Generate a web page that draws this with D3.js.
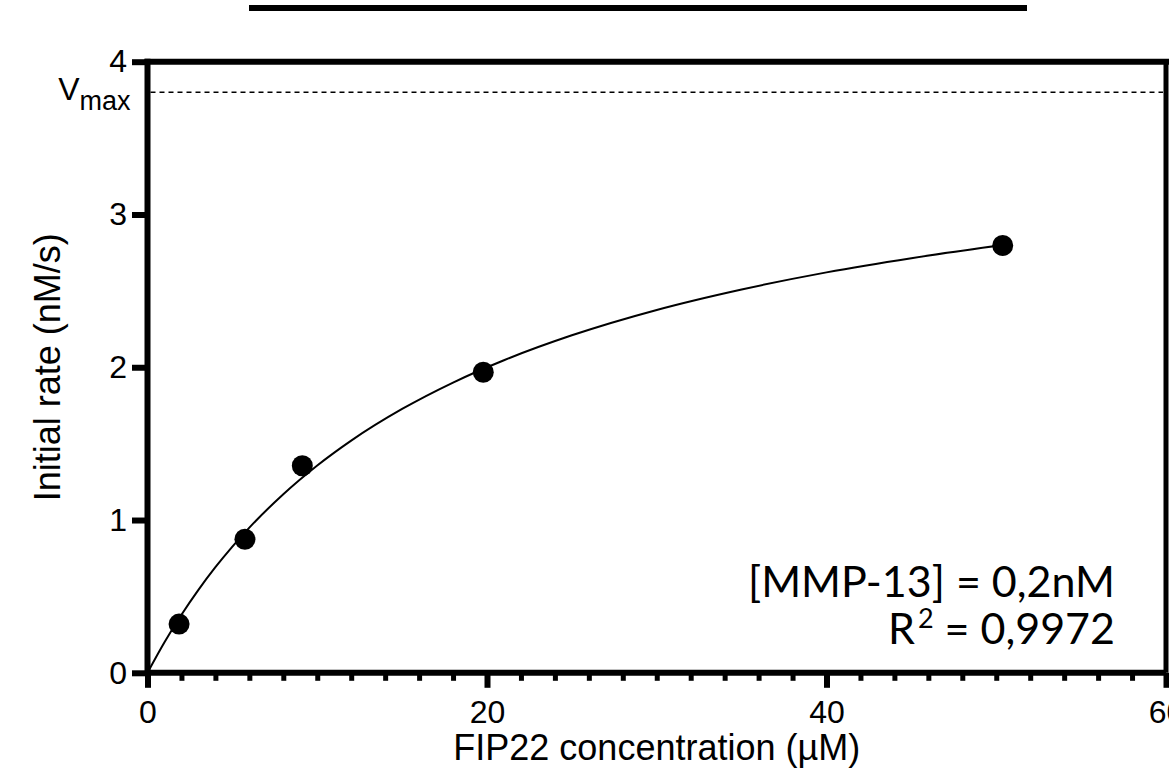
<!DOCTYPE html>
<html>
<head>
<meta charset="utf-8">
<script src="https://cdnjs.cloudflare.com/ajax/libs/d3/7.8.5/d3.min.js"></script>
<style>
  body { margin: 0; background: #fff; }
  svg { display: block; }
</style>
</head>
<body>
<div id="svgholder"></div>
<script>
// measured points (FIP22 uM vs initial rate nM/s)
var substrate = [1.86, 5.74, 9.12, 19.78, 50.38];
var rate = [0.319, 0.874, 1.355, 1.967, 2.797];

// fitted curve
var curveX = [0, 1, 2, 3, 4, 5, 6, 8, 10, 12, 15, 18, 21, 25, 30, 35, 40, 45, 50.4];
var curveY = [0, 0.20, 0.38, 0.543, 0.691, 0.826, 0.95, 1.169, 1.357, 1.52, 1.727, 1.90, 2.046, 2.209, 2.375, 2.509, 2.621, 2.714, 2.80];

var vmax = 3.80;

var xTicks = [0, 20, 40, 60];
var xMinorTicks = d3.range(2, 60, 2).filter(function(d){ return d % 20 != 0; });
var yTicks = [0, 1, 2, 3, 4];

var annotation = ["[MMP-13] = 0,2nM", "0,9972"];

var g = {
	width: 1169,
	height: 782,
	margin: {top: 61.7, right: 3, bottom: 109.2, left: 147.5},
	axisFont: "'Liberation Sans', Arial, sans-serif",
	noteFont: "Lato, 'Open Sans', sans-serif",
	plotW: function(){ return this.width - this.margin.left - this.margin.right; },
	plotH: function(){ return this.height - this.margin.top - this.margin.bottom; }
};

var svg = d3.select("#svgholder").append("svg")
	.attr("width", g.width)
	.attr("height", g.height);

// thick bar across the top
svg.append("line")
	.attr("x1", 249).attr("x2", 1027)
	.attr("y1", 8).attr("y2", 8)
	.attr("stroke", "#000")
	.attr("stroke-width", 6);

var plot = svg.append("g")
	.attr("transform", "translate(" + g.margin.left + "," + g.margin.top + ")");

var x = d3.scaleLinear().domain([0, 60]).range([0, g.plotW()]);
var y = d3.scaleLinear().domain([0, 4]).range([g.plotH(), 0]);

// minor x ticks
plot.append("g")
	.attr("transform", "translate(0," + g.plotH() + ")")
	.call(d3.axisBottom(x).tickValues(xMinorTicks).tickSize(8).tickFormat(""))
	.call(function(s){
		s.select(".domain").remove();
		s.selectAll(".tick line").attr("stroke-width", 5);
	});

// major x ticks
plot.append("g")
	.attr("transform", "translate(0," + g.plotH() + ")")
	.call(d3.axisBottom(x).tickValues(xTicks).tickSize(15).tickPadding(12).tickFormat(d3.format("d")))
	.call(function(s){
		s.select(".domain").remove();
		s.selectAll(".tick line").attr("stroke-width", 6);
		s.selectAll("text").attr("font-family", g.axisFont).attr("font-size", 32).attr("fill", "#000");
	});

// y ticks
plot.append("g")
	.call(d3.axisLeft(y).tickValues(yTicks).tickSize(15.5).tickPadding(5).tickFormat(d3.format("d")))
	.call(function(s){
		s.select(".domain").remove();
		s.selectAll(".tick line").attr("stroke-width", 6);
		s.selectAll("text").attr("font-family", g.axisFont).attr("font-size", 32).attr("fill", "#000");
	});

// frame
var frame = [
	[x(0), y(0), x(60), y(0), 6],
	[x(0), y(0) + 3, x(0), y(4) - 3, 6],
	[x(0) - 3, y(4), x(60) + 3, y(4), 6],
	[x(60), y(4), x(60), y(0), 5]
];
plot.selectAll(".frame").data(frame).enter()
	.append("line")
	.attr("class", "frame")
	.attr("x1", function(d){ return d[0]; })
	.attr("y1", function(d){ return d[1]; })
	.attr("x2", function(d){ return d[2]; })
	.attr("y2", function(d){ return d[3]; })
	.attr("stroke", "#000")
	.attr("stroke-width", function(d){ return d[4]; });

// Vmax dashed line
plot.append("line")
	.attr("x1", x(0) + 3).attr("x2", x(60) - 3)
	.attr("y1", y(vmax)).attr("y2", y(vmax))
	.attr("stroke", "#000")
	.attr("stroke-width", 1.5)
	.attr("stroke-dasharray", "5,4");

var vlab = plot.append("text")
	.attr("x", -17)
	.attr("y", y(vmax) + 8)
	.attr("text-anchor", "end")
	.attr("font-family", g.axisFont)
	.attr("fill", "#000");
vlab.append("tspan").attr("font-size", 32).text("V");
vlab.append("tspan").attr("font-size", 27).attr("dy", 10).text("max");

// fit curve
var line = d3.line()
	.x(function(d){ return x(d[0]); })
	.y(function(d){ return y(d[1]); })
	.curve(d3.curveMonotoneX);

plot.append("path")
	.datum(d3.zip(curveX, curveY))
	.attr("d", line)
	.attr("fill", "none")
	.attr("stroke", "#000")
	.attr("stroke-width", 2);

// points
plot.selectAll(".dot").data(d3.zip(substrate, rate)).enter()
	.append("circle")
	.attr("class", "dot")
	.attr("cx", function(d){ return x(d[0]); })
	.attr("cy", function(d){ return y(d[1]); })
	.attr("r", 10.5)
	.attr("fill", "#000");

// axis titles
svg.append("text")
	.attr("x", g.margin.left + g.plotW() / 2)
	.attr("y", 760)
	.attr("text-anchor", "middle")
	.attr("font-family", g.axisFont)
	.attr("font-size", 36)
	.attr("fill", "#000")
	.text("FIP22 concentration (\u00b5M)");

svg.append("text")
	.attr("transform", "translate(60," + (g.margin.top + g.plotH() / 2) + ") rotate(-90)")
	.attr("text-anchor", "middle")
	.attr("font-family", g.axisFont)
	.attr("font-size", 36)
	.attr("fill", "#000")
	.text("Initial rate (nM/s)");

// annotation
svg.append("text")
	.attr("x", 1115).attr("y", 597)
	.attr("text-anchor", "end")
	.attr("font-family", g.noteFont)
	.attr("font-size", 43)
	.attr("fill", "#000")
	.text(annotation[0]);

var r2 = svg.append("text")
	.attr("x", 1115).attr("y", 644)
	.attr("text-anchor", "end")
	.attr("font-family", g.noteFont)
	.attr("font-size", 43)
	.attr("fill", "#000");
r2.append("tspan").text("R");
r2.append("tspan").attr("font-size", 27).attr("dy", -16).attr("dx", 3).text("2");
r2.append("tspan").attr("dy", 16).text(" = " + annotation[1]);
</script>
</body>
</html>
